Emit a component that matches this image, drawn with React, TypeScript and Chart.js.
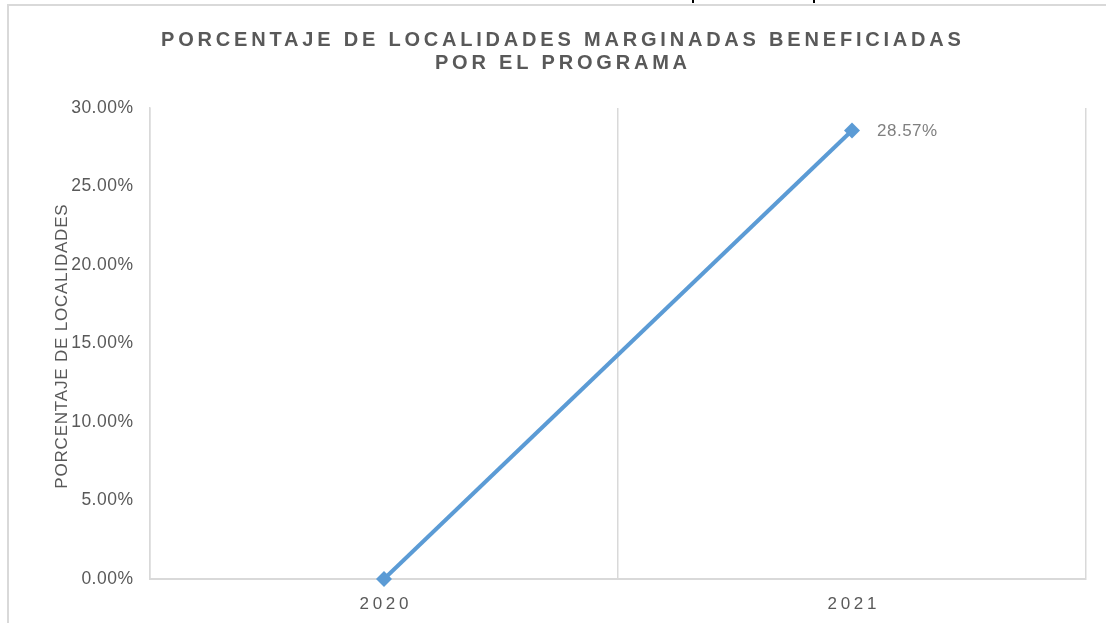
import React, { useEffect, useRef } from "react";
import { Chart, registerables } from "chart.js";

Chart.register(...registerables);

const titleLines = ["PORCENTAJE DE LOCALIDADES MARGINADAS BENEFICIADAS", "POR EL PROGRAMA"];
const yAxisTitle = "PORCENTAJE DE LOCALIDADES";
const categories = ["2020", "2021"];
const values = [0, 0.2857];
const dataLabels = ["", "28.57%"];

const FONT = "'Liberation Sans', Arial, sans-serif";
const GRID = "#d9d9d9";
const TEXT = "#595959";

const customText = {
  id: "customText",
  beforeDraw(chart: any) {
    const ctx = chart.ctx;
    ctx.save();
    ctx.strokeStyle = GRID;
    ctx.lineWidth = 2;
    ctx.beginPath();
    ctx.moveTo(8, chart.height);
    ctx.lineTo(8, 5);
    ctx.lineTo(chart.width, 5);
    ctx.stroke();
    ctx.fillStyle = "#000";
    ctx.fillRect(692, 0, 2, 3);
    ctx.fillRect(813, 0, 2, 3);
    ctx.restore();
  },
  afterDraw(chart: any) {
    const ctx = chart.ctx;
    const area = chart.chartArea;
    const xs = chart.scales.x;
    const ys = chart.scales.y;
    ctx.save();
    // Title
    ctx.fillStyle = TEXT;
    ctx.textAlign = "center";
    ctx.textBaseline = "middle";
    ctx.font = `bold 20px ${FONT}`;
    (ctx as any).letterSpacing = "3.8px";
    const cx = 561;
    ctx.fillText(titleLines[0], cx + 1.9, 40);
    ctx.fillText(titleLines[1], cx + 1.9, 63);

    // Y title
    ctx.font = `17px ${FONT}`;
    (ctx as any).letterSpacing = "0.8px";
    ctx.save();
    ctx.translate(62, (area.top + area.bottom) / 2 + 3);
    ctx.rotate(-Math.PI / 2);
    ctx.fillText(yAxisTitle, 0.4, 0);
    ctx.restore();

    // Y ticks
    ctx.font = `17.5px ${FONT}`;
    ctx.textAlign = "right";
    (ctx as any).letterSpacing = "0.5px";
    ys.ticks.forEach((t: any, i: number) => {
      const y = ys.getPixelForTick(i);
      ctx.fillText((t.value * 100).toFixed(2) + "%", 133.5, y);
    });

    // X labels
    ctx.font = `17px ${FONT}`;
    ctx.textAlign = "center";
    (ctx as any).letterSpacing = "3.7px";
    categories.forEach((c, i) => {
      ctx.fillText(c, xs.getPixelForValue(i) + 1.8, 604);
    });

    // Data labels
    const meta = chart.getDatasetMeta(0);
    ctx.font = `17px ${FONT}`;
    ctx.fillStyle = "#7f7f7f";
    ctx.textAlign = "left";
    (ctx as any).letterSpacing = "0.5px";
    meta.data.forEach((pt: any, i: number) => {
      if (!dataLabels[i]) return;
      ctx.fillText(dataLabels[i], pt.x + 25, pt.y + 1);
    });
    ctx.restore();
  },
};

export default function App() {
  const ref = useRef<HTMLCanvasElement>(null);
  useEffect(() => {
    if (!ref.current) return;
    const chart = new Chart(ref.current, {
      type: "line",
      data: {
        labels: categories,
        datasets: [
          {
            data: values,
            borderColor: "#5b9bd5",
            backgroundColor: "#5b9bd5",
            borderWidth: 4,
            pointStyle: "rectRot",
            pointRadius: 8,
            pointBorderWidth: 0,
            pointBackgroundColor: "#5b9bd5",
            tension: 0,
            clip: false as any,
          },
        ],
      },
      options: {
        responsive: false,
        animation: false,
        layout: { padding: { top: 108, right: 20, left: 0, bottom: 0 } },
        plugins: { legend: { display: false }, tooltip: { enabled: false }, title: { display: false } },
        scales: {
          x: {
            type: "category",
            offset: true,
            grid: { offset: true, color: GRID, lineWidth: 1.5, drawTicks: false },
            border: { color: GRID, width: 2 },
            ticks: { display: false },
            afterFit: (s: any) => {
              s.height = 44;
            },
          },
          y: {
            min: 0,
            max: 0.3,
            ticks: { display: false, stepSize: 0.05 },
            grid: { display: false, drawTicks: false },
            border: { color: GRID, width: 1.5 },
            afterFit: (s: any) => {
              s.width = 150;
            },
          },
        },
      },
      plugins: [customText],
    });
    return () => chart.destroy();
  }, []);
  return (
    <div style={{ position: "fixed", left: 0, top: 0, width: 1106, height: 623, background: "#fff" }}>
      <canvas ref={ref} width={1106} height={623} style={{ display: "block" }} />
    </div>
  );
}
